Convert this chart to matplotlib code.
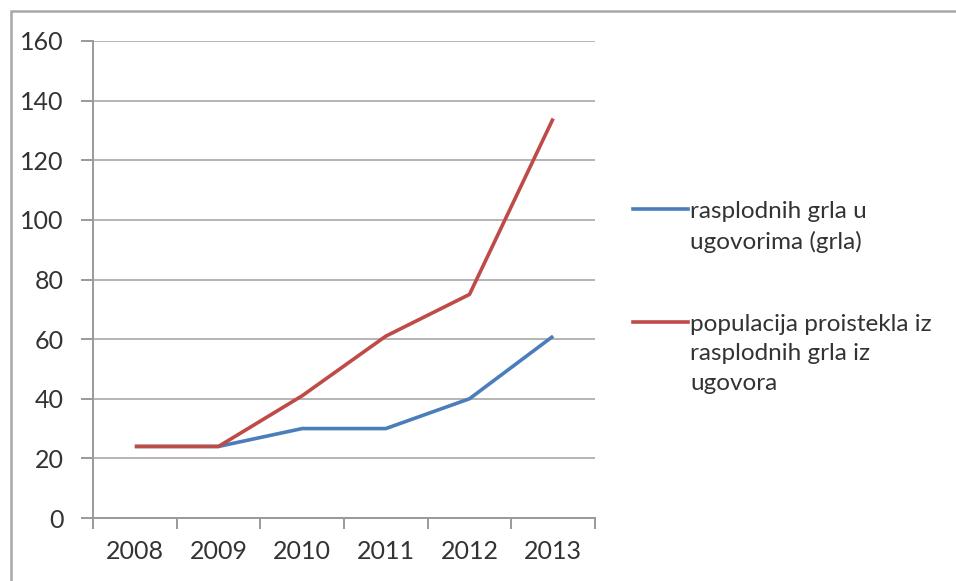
import matplotlib
matplotlib.use("Agg")
import matplotlib.pyplot as plt
from matplotlib.lines import Line2D
from matplotlib.patches import Rectangle
import numpy as np

years = ["2008", "2009", "2010", "2011", "2012", "2013"]
breeding_head = [24, 24, 30, 30, 40, 61]
offspring_population = [24, 24, 41, 61, 75, 134]
series_labels = ["rasplodnih grla u\nugovorima (grla)",
                 "populacija proistekla iz\nrasplodnih grla iz\nugovora"]
y_ticks = [0, 20, 40, 60, 80, 100, 120, 140, 160]

BLUE = "#4a7ebb"
RED = "#be4b48"
GRID = "#b4b4b4"
AXIS = "#9a9a9a"
TEXT = "#333333"

plt.rcParams["font.family"] = ["Lato", "DejaVu Sans"]

W, H = 956, 581
fig = plt.figure(figsize=(W / 100, H / 100), dpi=100)

# outer chart frame (top and left edges visible)
fig.patches.append(Rectangle((10.5 / W, -0.1), 1.2, 1 - 11 / H + 0.1,
                             transform=fig.transFigure, fill=False,
                             edgecolor="#a8a8a8", linewidth=1.8))

ax = fig.add_axes([93 / W, 1 - 518 / H, (595 - 93) / W, (518 - 41) / H])
x = np.arange(len(years))
ax.plot(x, breeding_head, color=BLUE, linewidth=2.6, solid_capstyle="butt", zorder=3)
ax.plot(x, offspring_population, color=RED, linewidth=2.6, solid_capstyle="butt", zorder=4)

ax.set_xlim(-0.5, len(years) - 0.5)
ax.set_ylim(0, 160)
ax.set_yticks(y_ticks)
ax.set_yticklabels([str(v) for v in y_ticks])
ax.set_xticks(x)
ax.set_xticklabels(years)
ax.set_xticks(np.arange(len(years) + 1) - 0.5, minor=True)

ax.yaxis.grid(True, color=GRID, linewidth=1.4)
ax.set_axisbelow(True)
for side in ("top", "right"):
    ax.spines[side].set_visible(False)
for side in ("left", "bottom"):
    ax.spines[side].set_color(AXIS)
    ax.spines[side].set_linewidth(1.4)

ax.tick_params(axis="y", length=9, width=1.4, color=AXIS, pad=12,
               labelsize=18, labelcolor=TEXT)
ax.tick_params(axis="x", which="major", length=0, pad=16,
               labelsize=18, labelcolor=TEXT)
ax.tick_params(axis="x", which="minor", length=8, width=1.4, color=AXIS)

# legend drawn to the right of the plot, handle aligned with first text line
legend_items = [(BLUE, series_labels[0], 209), (RED, series_labels[1], 322)]
for color, label, ypx in legend_items:
    fig.add_artist(Line2D([633 / W, 688 / W], [1 - ypx / H, 1 - ypx / H],
                          transform=fig.transFigure, color=color, linewidth=2.6))
    fig.text(690 / W, 1 - (ypx - 8) / H, label, ha="left", va="top",
             fontsize=17.5, color=TEXT, linespacing=1.5)

fig.savefig("out.png", dpi=100, facecolor="white")
